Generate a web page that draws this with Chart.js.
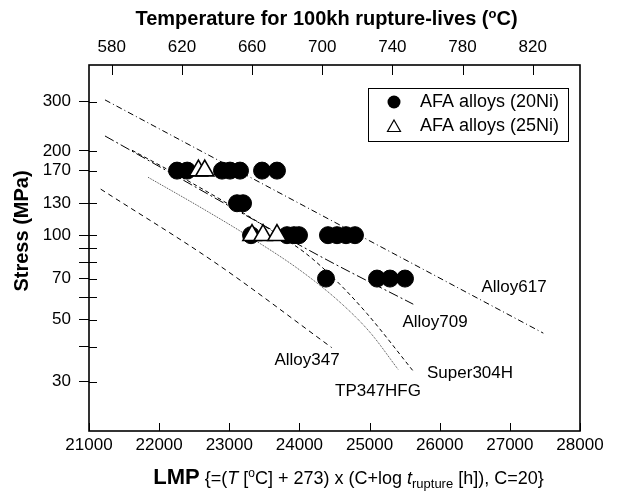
<!DOCTYPE html>
<html>
<head>
<meta charset="utf-8">
<script src="https://cdn.jsdelivr.net/npm/chart.js@4.4.1/dist/chart.umd.min.js"></script>
<style>
  html, body { margin: 0; padding: 0; background: #fff; }
  canvas { display: block; }
</style>
</head>
<body>
<canvas id="lmp" width="618" height="493"></canvas>
<script>
const FONT = "'Liberation Sans', Arial, sans-serif";

// axes
const lmpTicks = [21000, 22000, 23000, 24000, 25000, 26000, 27000, 28000];
const tempTicks = [580, 620, 660, 700, 740, 780, 820];
const stressTicks = [30, 40, 50, 60, 70, 80, 90, 100, 130, 170, 200, 300];
const stressLabels = [30, 50, 70, 100, 130, 170, 200, 300];

// AFA alloys, 20Ni (filled circles)
const lmp20Ni = [22255, 22400, 22896, 23010, 23153, 23467, 23680,
  23110, 23196,
  23310, 23823, 23923, 23994, 24407, 24536, 24664, 24792,
  24379, 25106, 25291, 25505];
const stress20Ni = [170, 170, 170, 170, 170, 170, 170,
  130, 130,
  100, 100, 100, 100, 100, 100, 100, 100,
  70, 70, 70, 70];

// AFA alloys, 25Ni (open triangles)
const lmp25Ni = [22560, 22650, 23324, 23481, 23680];
const stress25Ni = [170, 170, 100, 100, 100];

// reference alloys, 100kh rupture curves
const alloy617Lmp = [21228, 24422, 27477];
const alloy617Stress = [304, 114, 44.7];
const alloy709Lmp = [21228, 24326, 25623];
const alloy709Stress = [226, 83.3, 56.7];
const super304hLmp = [21613, 22340, 23153, 23652, 24080, 24507, 24963, 25619];
const super304hStress = [201, 160, 122, 102, 86.5, 69.5, 52.5, 32.8];
const tp347hfgLmp = [21841, 22583, 23295, 24008, 24579, 25006, 25406];
const tp347hfgStress = [161, 126, 98.4, 75.0, 57.6, 45.0, 33.2];
const alloy347Lmp = [21167, 22811, 24460];
const alloy347Stress = [146, 79.4, 39.7];

// curve name labels (LMP, stress of text centre)
const curveNames = ['Alloy617', 'Alloy709', 'Super304H', 'TP347HFG', 'Alloy347'];
const curveLabelLmp = [27059, 25933, 26432, 25120, 24108];
const curveLabelStress = [65.2, 48.9, 32.1, 27.7, 35.8];

const pts = (xs, ys) => xs.map((x, i) => ({ x, y: ys[i] }));

const curves = [
  { name: 'Alloy617', data: pts(alloy617Lmp, alloy617Stress), dash: [6, 3, 1, 3], color: '#000' },
  { name: 'Alloy709', data: pts(alloy709Lmp, alloy709Stress), dash: [10, 3, 2, 3], color: '#000' },
  { name: 'Super304H', data: pts(super304hLmp, super304hStress), dash: [4, 3], color: '#000' },
  { name: 'TP347HFG', data: pts(tp347hfgLmp, tp347hfgStress), dash: [1, 1], color: '#444' },
  { name: 'Alloy347', data: pts(alloy347Lmp, alloy347Stress), dash: [5, 4], color: '#000' },
];

function drawRuns(ctx, runs, cx, y) {
  let w = 0;
  runs.forEach((r) => {
    ctx.font = r.f;
    r.w = ctx.measureText(r.t).width;
    w += r.w;
  });
  let x = cx - w / 2;
  ctx.textAlign = 'left';
  ctx.textBaseline = 'alphabetic';
  runs.forEach((r) => {
    ctx.font = r.f;
    ctx.fillText(r.t, x, y + (r.dy || 0));
    x += r.w;
  });
}

const frame = {
  id: 'frame',
  afterDraw(chart) {
    const { ctx, chartArea: a, scales } = chart;
    ctx.save();
    ctx.strokeStyle = '#000';
    ctx.lineWidth = 1.6;
    ctx.strokeRect(a.left, a.top, a.right - a.left, a.bottom - a.top);
    // inward tick marks
    ctx.lineWidth = 1;
    ctx.beginPath();
    scales.x.ticks.forEach((t) => {
      const px = Math.round(scales.x.getPixelForValue(t.value)) + 0.5;
      ctx.moveTo(px, a.bottom);
      ctx.lineTo(px, a.bottom - 8);
    });
    scales.x2.ticks.forEach((t) => {
      const px = Math.round(scales.x2.getPixelForValue(t.value)) + 0.5;
      ctx.moveTo(px, a.top);
      ctx.lineTo(px, a.top + 10);
    });
    scales.y.ticks.forEach((t) => {
      const py = Math.round(scales.y.getPixelForValue(t.value)) + 0.5;
      ctx.moveTo(a.left, py);
      ctx.lineTo(a.left + 8, py);
    });
    ctx.stroke();

    ctx.fillStyle = '#000';
    // curve names
    ctx.font = '17px ' + FONT;
    ctx.textAlign = 'center';
    ctx.textBaseline = 'middle';
    curveNames.forEach((n, i) => {
      ctx.fillText(n, scales.x.getPixelForValue(curveLabelLmp[i]),
        scales.y.getPixelForValue(curveLabelStress[i]));
    });

    // titles
    const cx = (a.left + a.right) / 2;
    drawRuns(ctx, [
      { t: 'Temperature for 100kh rupture-lives (', f: 'bold 20px ' + FONT },
      { t: 'o', f: 'bold 13px ' + FONT, dy: -7 },
      { t: 'C)', f: 'bold 20px ' + FONT },
    ], cx - 8, 25);
    drawRuns(ctx, [
      { t: 'LMP', f: 'bold 22px ' + FONT },
      { t: ' {=(', f: '18px ' + FONT },
      { t: 'T', f: 'italic 18px ' + FONT },
      { t: ' [', f: '18px ' + FONT },
      { t: 'o', f: '12px ' + FONT, dy: -7 },
      { t: 'C] + 273) x (C+log ', f: '18px ' + FONT },
      { t: 't', f: 'italic 18px ' + FONT },
      { t: 'rupture', f: '13px ' + FONT, dy: 4 },
      { t: ' [h]), C=20}', f: '18px ' + FONT },
    ], cx + 14, 484);
    ctx.save();
    ctx.translate(22, 231);
    ctx.rotate(-Math.PI / 2);
    ctx.font = 'bold 20px ' + FONT;
    ctx.textAlign = 'center';
    ctx.textBaseline = 'middle';
    ctx.fillText('Stress (MPa)', 0, 0);
    ctx.restore();

    // legend box
    const lx = a.right - 212, ly = a.top + 23, lw = 200, lh = 53;
    ctx.lineWidth = 1;
    ctx.strokeRect(lx + 0.5, ly + 0.5, lw, lh);
    const sets = chart.data.datasets.slice(0, 2);
    ctx.font = '18px ' + FONT;
    ctx.textAlign = 'left';
    ctx.textBaseline = 'middle';
    sets.forEach((ds, i) => {
      const mx = lx + 26, my = ly + 14 + i * 24;
      ctx.beginPath();
      if (ds.pointStyle === 'circle') {
        ctx.arc(mx, my, 6.5, 0, Math.PI * 2);
        ctx.fillStyle = '#000';
        ctx.fill();
      } else {
        ctx.moveTo(mx, my - 6);
        ctx.lineTo(mx + 6.5, my + 5.5);
        ctx.lineTo(mx - 6.5, my + 5.5);
        ctx.closePath();
        ctx.lineWidth = 1.2;
        ctx.stroke();
      }
      ctx.fillStyle = '#000';
      ctx.fillText(ds.label, lx + 52, my);
    });
    ctx.restore();
  },
};

new Chart(document.getElementById('lmp'), {
  type: 'scatter',
  data: {
    datasets: [
      {
        label: 'AFA alloys (20Ni)',
        data: pts(lmp20Ni, stress20Ni),
        pointStyle: 'circle',
        pointRadius: 8.5,
        backgroundColor: '#000',
        borderColor: '#000',
        borderWidth: 1,
        order: 1,
      },
      {
        label: 'AFA alloys (25Ni)',
        data: pts(lmp25Ni, stress25Ni),
        pointStyle: 'triangle',
        pointRadius: 10.5,
        backgroundColor: '#fff',
        borderColor: '#000',
        borderWidth: 1.6,
        order: 0,
      },
      ...curves.map((c) => ({
        label: c.name,
        data: c.data,
        showLine: true,
        pointRadius: 0,
        borderColor: c.color,
        borderWidth: 1,
        borderDash: c.dash,
        cubicInterpolationMode: 'monotone',
        order: 2,
      })),
    ],
  },
  options: {
    responsive: false,
    animation: false,
    layout: { padding: { left: 0, right: 38, top: 0, bottom: 0 } },
    plugins: { legend: { display: false }, tooltip: { enabled: false } },
    scales: {
      x: {
        type: 'linear',
        position: 'bottom',
        min: 21000,
        max: 28000,
        afterBuildTicks: (s) => { s.ticks = lmpTicks.map((v) => ({ value: v })); },
        afterFit: (s) => { s.height = 62; },
        grid: { display: false, drawTicks: false },
        border: { display: false },
        ticks: {
          color: '#000', font: { family: FONT, size: 17 }, padding: 4,
          maxRotation: 0, autoSkip: false, callback: (v) => String(v),
        },
      },
      x2: {
        type: 'linear',
        position: 'top',
        // LMP = 25 * (T + 273) for 100kh
        min: 21000 / 25 - 273,
        max: 28000 / 25 - 273,
        afterBuildTicks: (s) => { s.ticks = tempTicks.map((v) => ({ value: v })); },
        afterFit: (s) => { s.height = 65; },
        grid: { display: false, drawTicks: false },
        border: { display: false },
        ticks: {
          color: '#000', font: { family: FONT, size: 17 }, padding: 7,
          maxRotation: 0, autoSkip: false, callback: (v) => String(v),
        },
      },
      y: {
        type: 'logarithmic',
        min: 20,
        max: 405,
        afterBuildTicks: (s) => { s.ticks = stressTicks.map((v) => ({ value: v })); },
        afterFit: (s) => { s.width = 89; },
        grid: { drawOnChartArea: false, tickLength: 10, color: '#000' },
        border: { display: false },
        ticks: {
          color: '#000', font: { family: FONT, size: 17 }, padding: 8, autoSkip: false,
          callback: (v) => (stressLabels.includes(v) ? String(v) : ''),
        },
      },
    },
  },
  plugins: [frame],
});
</script>
</body>
</html>
